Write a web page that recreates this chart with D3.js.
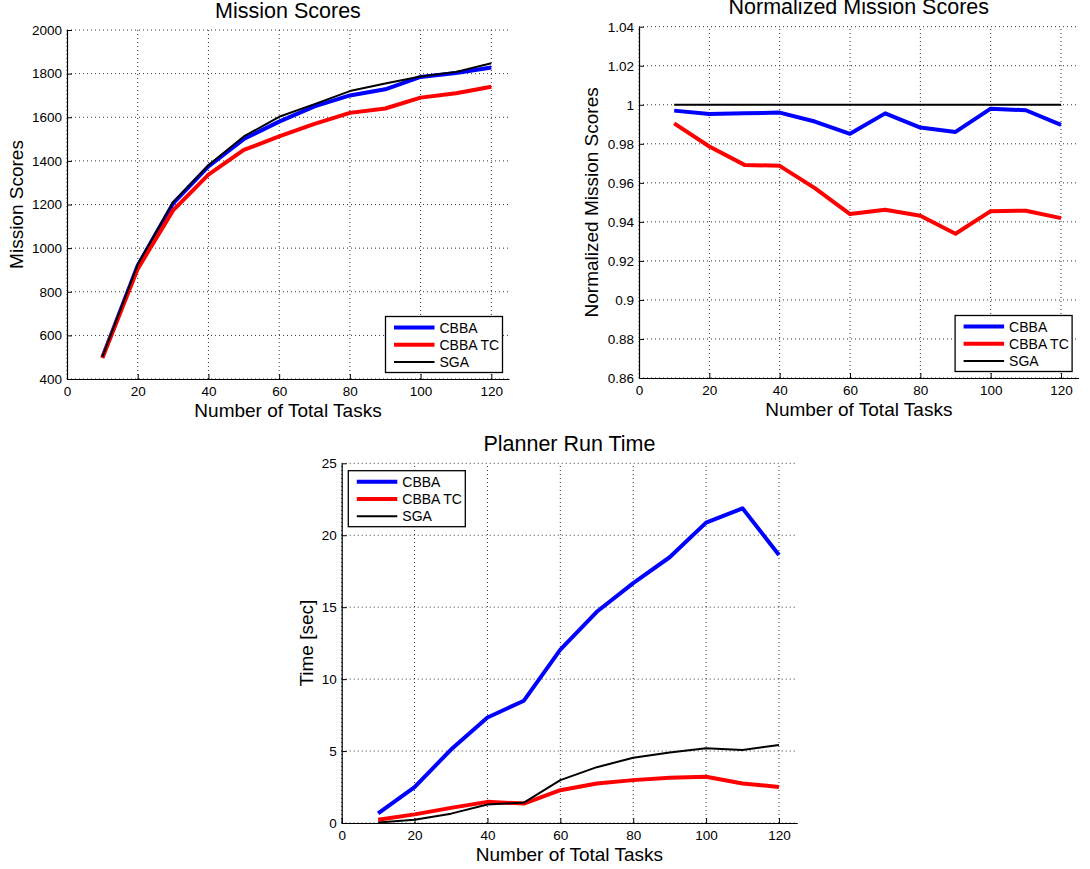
<!DOCTYPE html>
<html>
<head>
<meta charset="utf-8">
<script src="https://cdn.jsdelivr.net/npm/d3@7"></script>
<style>
  html, body { margin: 0; padding: 0; background: #fff; }
  svg { display: block; font-family: "Liberation Sans", Arial, Helvetica, sans-serif; }
</style>
</head>
<body>
<svg id="chart" width="1090" height="869"></svg>
<script>
// ---------------- DATA ----------------
const tasks = [10, 20, 30, 40, 50, 60, 70, 80, 90, 100, 110, 120];
const seriesNames = ["CBBA", "CBBA TC", "SGA"];

// Mission Scores
const cbbaScore   = [500, 920, 1205, 1375, 1500, 1580, 1650, 1700, 1728, 1785, 1803, 1828];
const cbbaTcScore = [496, 905, 1173, 1337, 1450, 1512, 1570, 1620, 1640, 1690, 1710, 1740];
const sgaScore    = [501, 925, 1210, 1380, 1512, 1602, 1660, 1720, 1755, 1787, 1808, 1848];

// Normalized Mission Scores
const cbbaNorm   = [0.9970, 0.9953, 0.9956, 0.9960, 0.9914, 0.9851, 0.9956, 0.9883, 0.9861, 0.9980, 0.9972, 0.9897];
const cbbaTcNorm = [0.9905, 0.9786, 0.9692, 0.9687, 0.9573, 0.9440, 0.9462, 0.9431, 0.9339, 0.9455, 0.9457, 0.9419];
const sgaNorm    = [1, 1, 1, 1, 1, 1, 1, 1, 1, 1, 1, 1];

// Planner Run Time [sec]
const cbbaTime   = [0.67, 2.5, 5.1, 7.33, 8.5, 12.05, 14.68, 16.67, 18.47, 20.88, 21.87, 18.63];
const cbbaTcTime = [0.23, 0.6, 1.05, 1.47, 1.35, 2.28, 2.74, 2.98, 3.14, 3.21, 2.74, 2.51];
const sgaTime    = [0.03, 0.23, 0.65, 1.28, 1.42, 2.98, 3.88, 4.53, 4.9, 5.19, 5.07, 5.42];

// Tick values
const xTicks = [0, 20, 40, 60, 80, 100, 120];
const scoreTicks = [400, 600, 800, 1000, 1200, 1400, 1600, 1800, 2000];
const normTicks = [0.86, 0.88, 0.9, 0.92, 0.94, 0.96, 0.98, 1, 1.02, 1.04];
const timeTicks = [0, 5, 10, 15, 20, 25];

// ---------------- STYLE ----------------
const colors = ["#0000ff", "#ff0000", "#000000"];
const widths = [4, 4, 2];

const svg = d3.select("#chart");

function panel(cfg) {
  const g = svg.append("g");
  const x = d3.scaleLinear().domain([0, 125]).range([cfg.left, cfg.right]);
  const y = d3.scaleLinear().domain(cfg.yDomain).range([cfg.bottom, cfg.top]);

  // grid
  const grid = g.append("g").attr("stroke", "#333").attr("stroke-width", 1)
    .attr("stroke-dasharray", "1,3").attr("fill", "none");
  xTicks.forEach(t => grid.append("line")
    .attr("x1", x(t)).attr("x2", x(t)).attr("y1", cfg.bottom).attr("y2", cfg.top));
  cfg.yTicks.forEach(t => grid.append("line")
    .attr("x1", cfg.left).attr("x2", cfg.right).attr("y1", y(t)).attr("y2", y(t)));

  // axes (ticks inward)
  const xAxis = d3.axisBottom(x).tickValues(xTicks).tickSize(-5).tickPadding(7)
    .tickFormat(d3.format("d")).tickSizeOuter(0);
  const yAxis = d3.axisLeft(y).tickValues(cfg.yTicks).tickSize(-5).tickPadding(5)
    .tickFormat(cfg.yFormat).tickSizeOuter(0);
  const gx = g.append("g").attr("transform", `translate(0,${cfg.bottom})`).call(xAxis);
  const gy = g.append("g").attr("transform", `translate(${cfg.left},0)`).call(yAxis);
  [gx, gy].forEach(a => {
    a.selectAll("text").attr("font-size", "13.5px").attr("fill", "#000")
      .attr("font-family", "Liberation Sans, Arial, sans-serif");
    a.selectAll("line").attr("stroke", "#000");
    a.select(".domain").attr("stroke", "#000").attr("stroke-width", 1.2);
  });
  gy.selectAll(".tick text").attr("x", -5);

  // lines
  const line = d3.line().x((d, i) => x(tasks[i])).y(d => y(d));
  cfg.series.forEach((s, i) => {
    g.append("path").datum(s).attr("d", line).attr("fill", "none")
      .attr("stroke", colors[i]).attr("stroke-width", widths[i])
      .attr("stroke-linejoin", "round");
  });

  // title
  g.append("text").attr("x", (cfg.left + cfg.right) / 2).attr("y", cfg.top - 12.5)
    .attr("text-anchor", "middle").attr("font-size", "21.5px").text(cfg.title);
  // x label
  g.append("text").attr("x", (cfg.left + cfg.right) / 2).attr("y", cfg.bottom + 37.5)
    .attr("text-anchor", "middle").attr("font-size", "19px").text("Number of Total Tasks");
  // y label positioned from widest tick label
  let maxW = 0;
  gy.selectAll(".tick text").each(function () { maxW = Math.max(maxW, this.getBBox().width); });
  const yl = cfg.left - 5 - maxW - 9;
  g.append("text").attr("transform", `translate(${yl},${(cfg.top + cfg.bottom) / 2}) rotate(-90)`)
    .attr("text-anchor", "middle").attr("font-size", "19px").text(cfg.ylabel);

  // legend
  const lw = 117, lh = 56;
  const lx = cfg.legendPos === "tl" ? cfg.left + 6.6 : cfg.right - 6.5 - lw;
  const ly = cfg.legendPos === "tl" ? cfg.top + 7.4 : cfg.bottom - 6.5 - lh;
  const lg = g.append("g").attr("transform", `translate(${lx},${ly})`);
  lg.append("rect").attr("width", lw).attr("height", lh).attr("fill", "#fff")
    .attr("stroke", "#000").attr("stroke-width", 1.3);
  seriesNames.forEach((n, i) => {
    const ry = 11 + i * 17.3;
    lg.append("line").attr("x1", 8.5).attr("x2", 49).attr("y1", ry).attr("y2", ry)
      .attr("stroke", colors[i]).attr("stroke-width", widths[i]);
    lg.append("text").attr("x", 54).attr("y", ry).attr("dy", "0.36em")
      .attr("font-size", "14px").text(n);
  });
}

panel({
  left: 67, right: 509, top: 30, bottom: 379,
  yDomain: [400, 2000], yTicks: scoreTicks, yFormat: d3.format("d"),
  series: [cbbaScore, cbbaTcScore, sgaScore],
  title: "Mission Scores", ylabel: "Mission Scores", legendPos: "br"
});
panel({
  left: 639, right: 1078.6, top: 26.7, bottom: 378,
  yDomain: [0.86, 1.04], yTicks: normTicks, yFormat: d => String(+d.toFixed(2)),
  series: [cbbaNorm, cbbaTcNorm, sgaNorm],
  title: "Normalized Mission Scores", ylabel: "Normalized Mission Scores", legendPos: "br"
});
panel({
  left: 341.7, right: 797.2, top: 463.3, bottom: 823,
  yDomain: [0, 25], yTicks: timeTicks, yFormat: d3.format("d"),
  series: [cbbaTime, cbbaTcTime, sgaTime],
  title: "Planner Run Time", ylabel: "Time [sec]", legendPos: "tl"
});
</script>
</body>
</html>
